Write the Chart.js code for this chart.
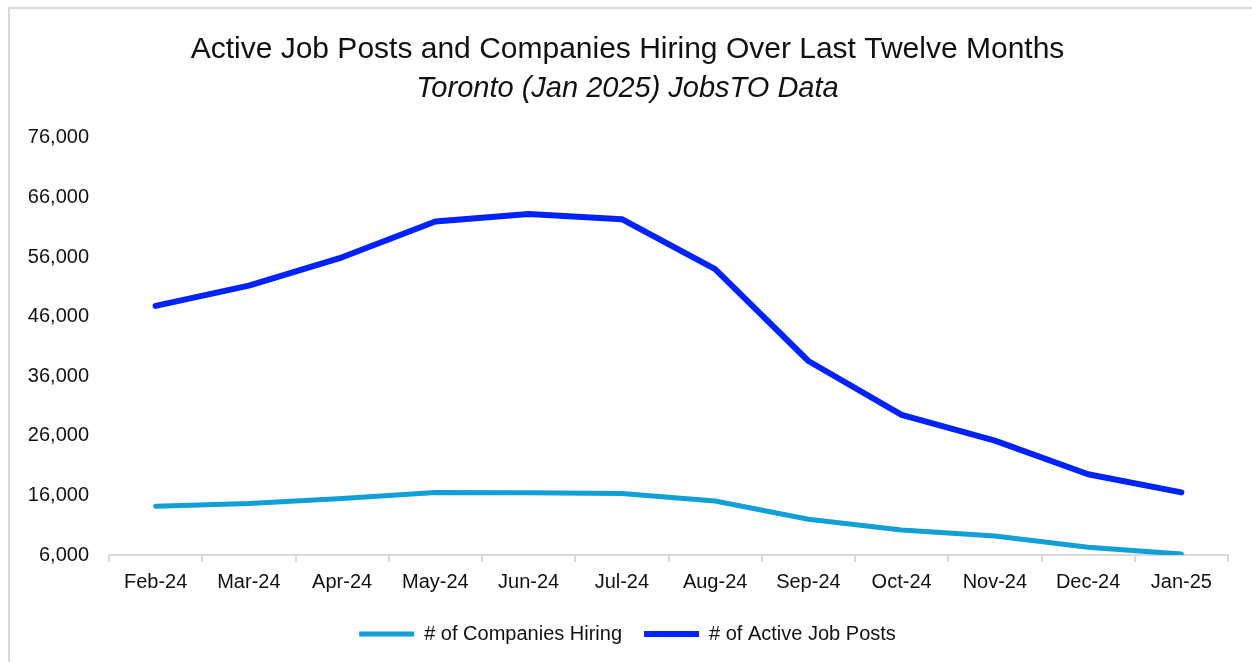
<!DOCTYPE html>
<html>
<head>
<meta charset="utf-8">
<title>Active Job Posts and Companies Hiring</title>
<script src="https://cdn.jsdelivr.net/npm/chart.js@4.4.3/dist/chart.umd.min.js"></script>
<style>
  html, body { margin: 0; padding: 0; background: #fff; overflow: hidden; }
  #wrap { position: relative; width: 1252px; height: 662px; }
  /* frame edge along top and left */
  #frame {
    position: absolute; left: 8px; top: 7px; width: 1400px; height: 800px;
    border-top: 2px solid #d9d9d9; border-left: 2px solid #d9d9d9;
  }
  #chart { position: absolute; left: 0; top: 0; }
</style>
</head>
<body>
<div id="wrap">
  <div id="frame"></div>
  <canvas id="chart" width="1252" height="662"></canvas>
</div>
<script>
const months = ["Feb-24", "Mar-24", "Apr-24", "May-24", "Jun-24", "Jul-24",
                "Aug-24", "Sep-24", "Oct-24", "Nov-24", "Dec-24", "Jan-25"];
const companiesHiring = [14200, 14650, 15500, 16500, 16450, 16300, 15050, 12000, 10200, 9200, 7300, 6150];
const activeJobPosts = [47800, 51200, 55950, 61950, 63200, 62350, 53950, 38550, 29500, 25200, 19550, 16500];
const yTicks = [6000, 16000, 26000, 36000, 46000, 56000, 66000, 76000];

const FONT = "'Liberation Sans', Arial, sans-serif";
const INK = "#111111";
const AXIS_GRAY = "#d9d9d9";
// y tick labels are clipped to the axis box, so keep it wide enough for "76,000"
const LEFT_PAD = 27;

const ctx = document.getElementById("chart");
new Chart(ctx, {
  type: "line",
  data: {
    labels: months,
    datasets: [
      {
        label: "# of Companies Hiring",
        data: companiesHiring,
        borderColor: "#109FD7",
        backgroundColor: "#109FD7",
        borderWidth: 5,
        borderCapStyle: "round",
        borderJoinStyle: "round",
        pointRadius: 0,
        pointStyle: "line",
        tension: 0,
      },
      {
        label: "# of Active Job Posts",
        data: activeJobPosts,
        borderColor: "#0022FF",
        backgroundColor: "#0022FF",
        borderWidth: 6,
        borderCapStyle: "round",
        borderJoinStyle: "round",
        pointRadius: 0,
        pointStyle: "line",
        tension: 0,
      },
    ],
  },
  options: {
    responsive: false,
    animation: false,
    layout: { padding: { top: 0, left: LEFT_PAD, right: 24, bottom: 8 } },
    plugins: {
      title: {
        display: true,
        text: "Active Job Posts and Companies Hiring Over Last Twelve Months",
        color: INK,
        font: { family: FONT, size: 30, weight: "normal" },
        padding: { top: 32, bottom: 4 },
      },
      subtitle: {
        display: true,
        text: "Toronto (Jan 2025) JobsTO Data",
        color: INK,
        font: { family: FONT, size: 29, style: "italic", weight: "normal" },
        padding: { top: 0, bottom: 31 },
      },
      legend: {
        position: "bottom",
        labels: {
          usePointStyle: true,
          pointStyleWidth: 55,
          padding: 22,
          color: INK,
          font: { family: FONT, size: 20 },
        },
      },
      tooltip: { enabled: false },
    },
    scales: {
      x: {
        offset: true,
        grid: {
          display: true,
          offset: true,
          drawOnChartArea: false,
          drawTicks: true,
          tickLength: 7,
          color: AXIS_GRAY,
          lineWidth: 2,
        },
        border: { display: true, color: AXIS_GRAY, width: 2 },
        ticks: { color: INK, padding: 8, maxRotation: 0, font: { family: FONT, size: 20 } },
      },
      y: {
        min: yTicks[0],
        max: yTicks[yTicks.length - 1],
        afterFit: (scale) => { scale.width = 109 - LEFT_PAD; },
        afterBuildTicks: (scale) => { scale.ticks = yTicks.map((v) => ({ value: v })); },
        grid: { display: false, drawTicks: false },
        border: { display: false },
        ticks: {
          color: INK,
          padding: 20,
          font: { family: FONT, size: 20 },
          callback: (v) => Number(v).toLocaleString("en-US"),
        },
      },
    },
  },
});
</script>
</body>
</html>
